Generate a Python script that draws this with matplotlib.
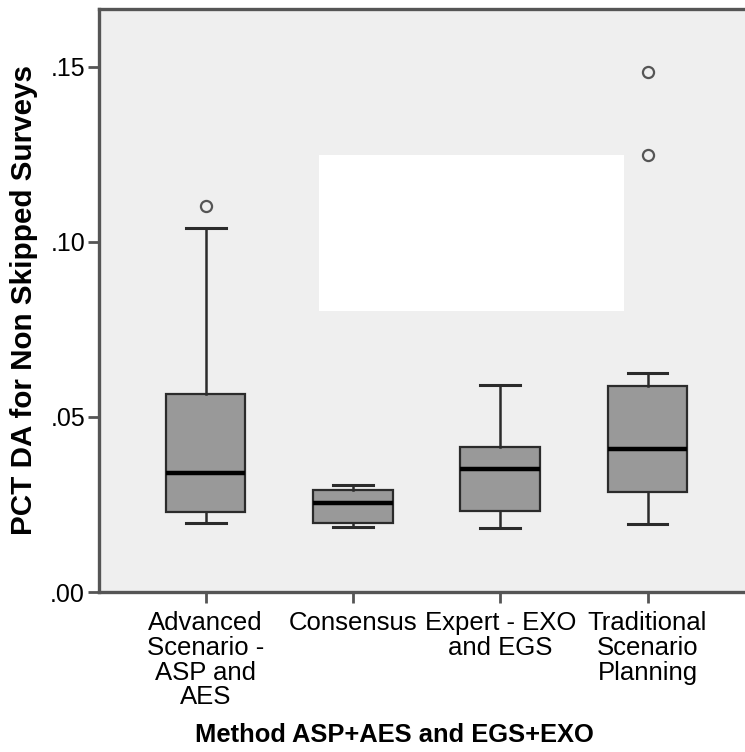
import matplotlib
matplotlib.use("Agg")
import matplotlib.pyplot as plt
from matplotlib.patches import Rectangle

plt.rcParams['font.family'] = ['Liberation Sans', 'DejaVu Sans']

# Groups and five-number summaries of PCT DA for non skipped surveys
categories = ["Advanced\nScenario -\nASP and\nAES", "Consensus",
              "Expert - EXO\nand EGS", "Traditional\nScenario\nPlanning"]
whisker_low = [0.0196, 0.0185, 0.0182, 0.0193]
q1 = [0.0228, 0.0198, 0.0232, 0.0286]
median = [0.0341, 0.0255, 0.0351, 0.0408]
q3 = [0.0566, 0.0291, 0.0414, 0.0589]
whisker_high = [0.1039, 0.0307, 0.0592, 0.0625]
outliers = [[0.1104], [], [], [0.1486, 0.1248]]

y_ticks = [0.00, 0.05, 0.10, 0.15]
y_tick_labels = [".00", ".05", ".10", ".15"]

stats = []
for i, name in enumerate(categories):
    stats.append(dict(label=name, whislo=whisker_low[i], q1=q1[i], med=median[i],
                      q3=q3[i], whishi=whisker_high[i], fliers=outliers[i]))

fig = plt.figure(figsize=(7.45, 7.52), dpi=100)
W, H = 745, 752
left, right, top, bottom = 99, 754, 9.3, 592
ax = fig.add_axes([left / W, (H - bottom) / H, (right - left) / W, (bottom - top) / H])
ax.set_facecolor("#EFEFEF")

line_col = "#2b2b2b"
ax.bxp(stats, positions=[1, 2, 3, 4], widths=0.54, patch_artist=True,
       capwidths=0.27,
       boxprops=dict(facecolor="#999999", edgecolor=line_col, linewidth=1.6),
       medianprops=dict(color="black", linewidth=3.2, solid_capstyle="butt"),
       whiskerprops=dict(color=line_col, linewidth=1.8),
       capprops=dict(color=line_col, linewidth=2.2),
       flierprops=dict(marker="o", markersize=8, markerfacecolor="none",
                       markeredgecolor="#555555", markeredgewidth=1.6))

# blank panel inside the plot area
ax.add_patch(Rectangle((0.336, 0.482), 0.4655, 0.268, transform=ax.transAxes,
                       facecolor="white", edgecolor="none", zorder=1.5))

ax.set_xlim(1 - (205.7 - left) / 147.27, 4 + (right - 647.5) / 147.27)
ax.set_ylim(0, (bottom - top) / 3500)
ax.set_yticks(y_ticks)
ax.set_yticklabels(y_tick_labels)
ax.set_xticks([1, 2, 3, 4])
ax.set_xticklabels(categories, linespacing=1.03)

for s in ["left", "bottom", "top", "right"]:
    ax.spines[s].set_color("#555555")
    ax.spines[s].set_linewidth(2.4)

ax.tick_params(axis="y", length=8, width=2, color="#555555", labelsize=18, pad=2)
ax.tick_params(axis="x", length=8, width=2, color="#555555", labelsize=18.5, pad=6)

ax.set_ylabel("PCT DA for Non Skipped Surveys", fontsize=21.3, fontweight="bold",
              va="center")
ax.yaxis.set_label_coords((24 - left) / (right - left), (bottom - 300) / (bottom - top))
fig.text(394 / W, 1 - 735 / H, "Method ASP+AES and EGS+EXO", fontsize=18.4,
         fontweight="bold", ha="center", va="center")

fig.savefig("out.png", dpi=100, facecolor="white")
